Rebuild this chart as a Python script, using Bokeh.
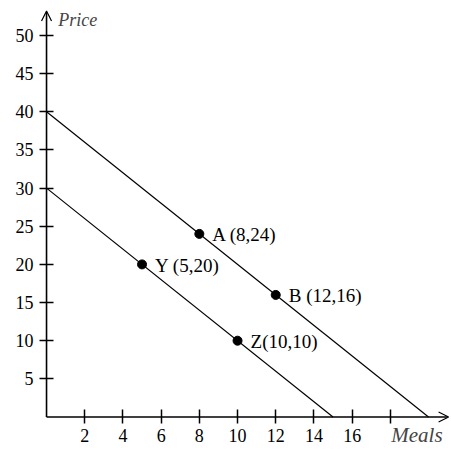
from bokeh.plotting import figure
from bokeh.models import LinearAxis, FixedTicker, Arrow, OpenHead, ColumnDataSource, Range1d, Label
from bokeh.core.properties import value
from bokeh.embed import file_html
from bokeh.resources import INLINE

# Data
line1_meals = [0, 20]
line1_price = [40, 0]
line2_meals = [0, 15]
line2_price = [30, 0]
point_labels = ["A (8,24)", "B (12,16)", "Y (5,20)", "Z(10,10)"]
point_meals = [8, 12, 5, 10]
point_price = [24, 16, 20, 10]
x_ticks = [2, 4, 6, 8, 10, 12, 14, 16, 18]
x_tick_labels = ["2", "4", "6", "8", "10", "12", "14", "16", ""]
y_ticks = [5, 10, 15, 20, 25, 30, 35, 40, 45, 50]

FONT = "Liberation Serif"

p = figure(width=450, height=449, output_backend="svg", toolbar_location=None,
           x_axis_type=None, y_axis_type=None,
           x_range=Range1d(-2.41, 21.15), y_range=Range1d(-4.26, 54.59),
           min_border=0)
p.outline_line_color = None
p.xgrid.visible = False
p.ygrid.visible = False
p.background_fill_color = "white"

xaxis = LinearAxis(fixed_location=0, ticker=FixedTicker(ticks=x_ticks),
                   major_label_overrides={t: l for t, l in zip(x_ticks, x_tick_labels)})
yaxis = LinearAxis(fixed_location=0, ticker=FixedTicker(ticks=y_ticks))
for ax in (xaxis, yaxis):
    ax.axis_line_color = None
    ax.major_tick_in = 7
    ax.major_tick_out = 7
    ax.major_tick_line_color = "black"
    ax.major_tick_line_width = 1.5
    ax.minor_tick_line_color = None
    ax.major_label_text_font = FONT
    ax.major_label_text_font_size = "18px"
    ax.major_label_text_color = "black"
xaxis.major_label_standoff = 5
yaxis.major_label_standoff = 6
p.add_layout(xaxis, "below")
p.add_layout(yaxis, "left")

# axis lines with arrows
p.add_layout(Arrow(x_start=0, y_start=0, x_end=21.05, y_end=0, line_width=1.6,
                   end=OpenHead(size=10, line_width=1.2)))
p.add_layout(Arrow(x_start=0, y_start=0, x_end=0, y_end=53.2, line_width=1.6,
                   end=OpenHead(size=10, line_width=1.2)))

p.line(line1_meals, line1_price, line_color="black", line_width=1.2)
p.line(line2_meals, line2_price, line_color="black", line_width=1.2)

src = ColumnDataSource(dict(x=point_meals, y=point_price, t=point_labels))
p.scatter("x", "y", source=src, size=9, color="black")
p.text("x", "y", text="t", source=src, x_offset=13, y_offset=1, text_baseline="middle",
       text_font=value(FONT), text_font_size="19px", text_color="black")

p.add_layout(Label(x=0.62, y=52.0, text="Price", text_font=FONT, text_font_style="italic",
                   text_font_size="18px", text_baseline="middle"))
p.add_layout(Label(x=18.05, y=-2.3, text="Meals", text_font=FONT, text_font_style="italic",
                   text_font_size="21px", text_baseline="middle"))

open("out.html", "w").write(file_html(p, INLINE))
